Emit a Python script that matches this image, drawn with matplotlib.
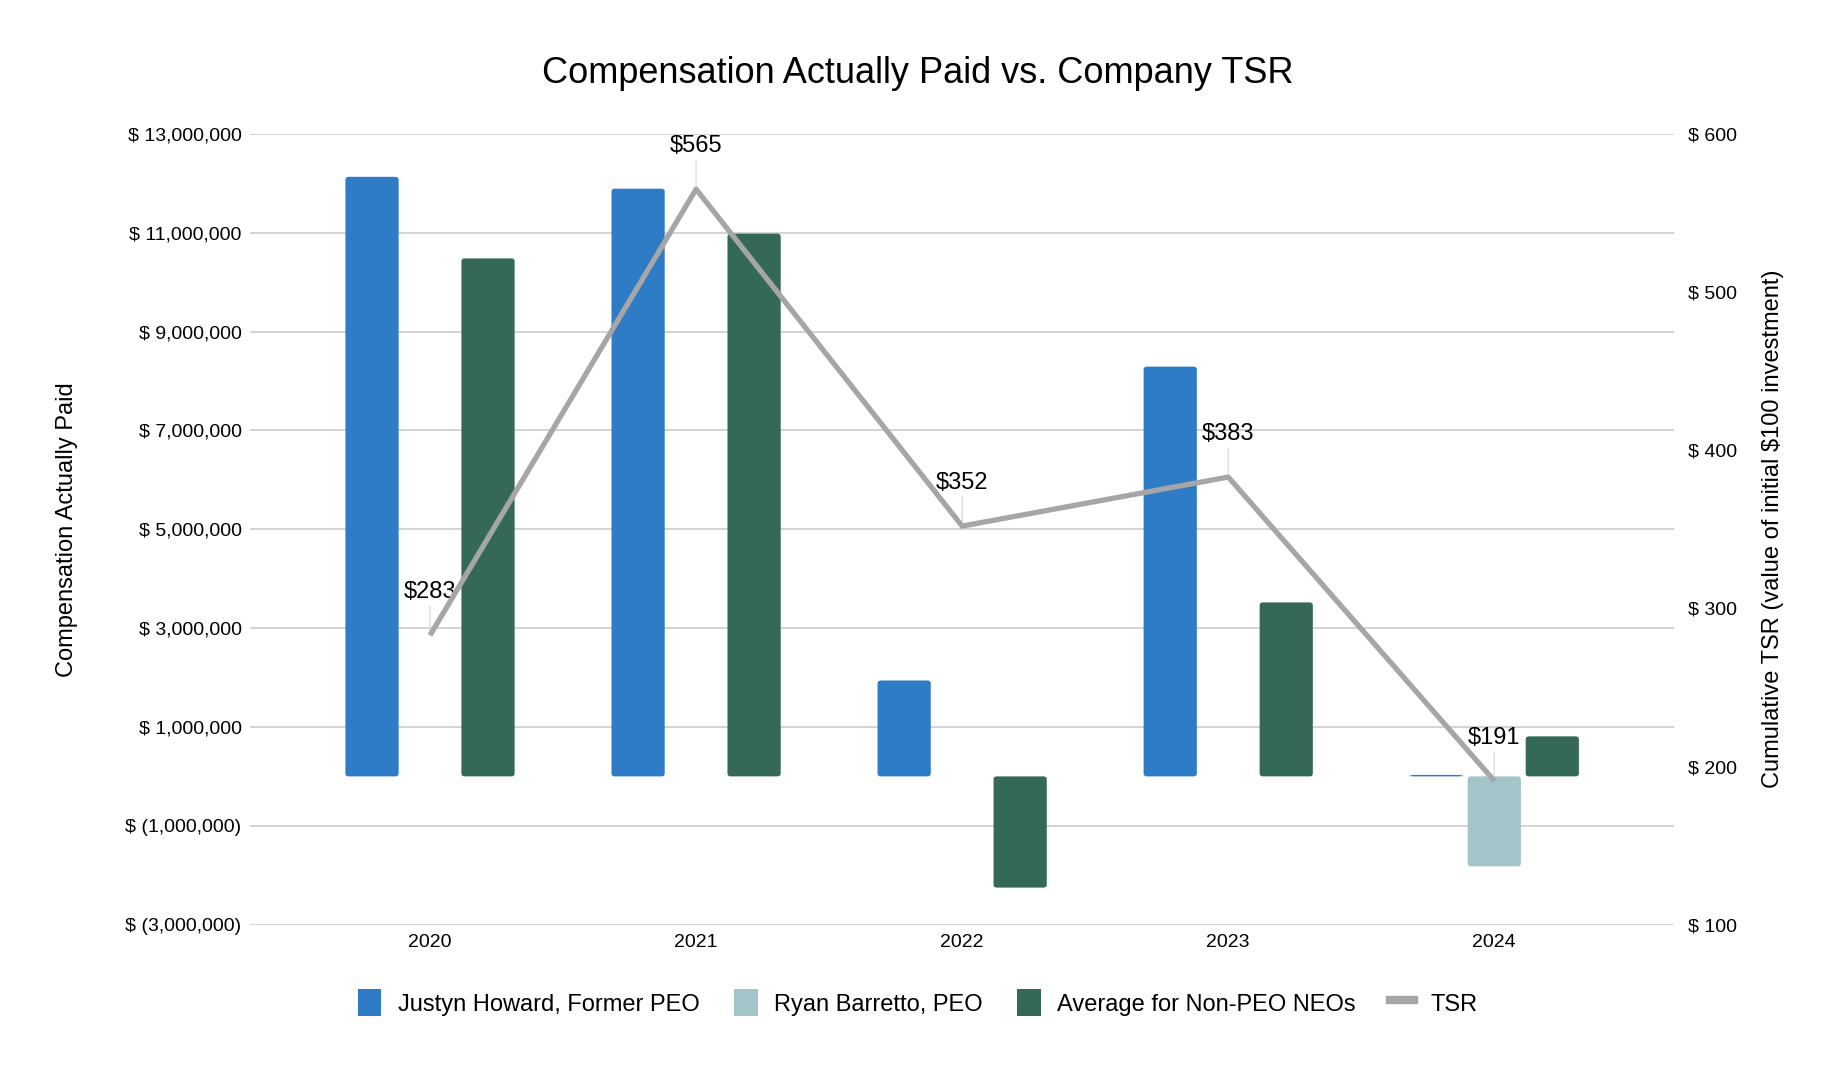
import matplotlib.pyplot as plt
import numpy as np
from matplotlib.patches import Patch, FancyBboxPatch
from matplotlib.lines import Line2D
from matplotlib.ticker import FuncFormatter

plt.rcParams['font.family'] = ['Liberation Sans', 'DejaVu Sans']

years = ['2020', '2021', '2022', '2023', '2024']
justyn = [12130000, 11890000, 1940000, 8290000, 30000]
ryan = [0, 0, 0, 0, -1820000]
non_peo = [10480000, 10980000, -2250000, 3520000, 810000]
tsr = [283, 565, 352, 383, 191]

c_justyn = '#2E7BC6'
c_ryan = '#A3C4C9'
c_avg = '#346955'
c_tsr = '#A6A6A6'

fig = plt.figure(figsize=(18.24, 10.68), dpi=100)
ax = fig.add_axes([0.137, 0.1342, 0.781, 0.7405])
ax2 = ax.twinx()

x = np.arange(len(years))
w = 0.2
off = 0.218

bars = []
bars += list(ax.bar(x - off, justyn, w, color=c_justyn, zorder=3))
bars += list(ax.bar(x, ryan, w, color=c_ryan, zorder=3))
bars += list(ax.bar(x + off, non_peo, w, color=c_avg, zorder=3))

ax.set_xlim(-0.677, 4.677)
ax.set_ylim(-3000000, 13000000)

# swap plain bars for slightly rounded ones
rx = 0.012
ry = 60000
for b in bars:
    if b.get_height() == 0:
        b.remove()
        continue
    bx, by = b.get_x(), b.get_y()
    bw, bh = b.get_width(), b.get_height()
    if bh < 0:
        by, bh = by + bh, -bh
    fb = FancyBboxPatch((bx, by), bw, bh,
                        boxstyle='round,pad=0,rounding_size=%f' % rx,
                        mutation_aspect=ry / rx,
                        facecolor=b.get_facecolor(), edgecolor='none', zorder=3)
    b.remove()
    ax.add_patch(fb)

ax.set_yticks(np.arange(-3000000, 13000001, 2000000))


def money(v, pos):
    if v < 0:
        return '$ ({:,.0f})'.format(-v)
    return '$ {:,.0f}'.format(v)


ax.yaxis.set_major_formatter(FuncFormatter(money))
ax.grid(axis='y', color='#CCCCCC', lw=1.2, zorder=0)
ax.set_axisbelow(True)
ax.set_xticks(x)
ax.set_xticklabels(years)
ax.tick_params(axis='y', length=0, labelsize=14, pad=6)
ax.tick_params(axis='x', length=0, labelsize=14, pad=7)
for s in ax.spines.values():
    s.set_visible(False)
ax.set_ylabel('Compensation Actually Paid', fontsize=17, labelpad=34)

ax2.plot(x, tsr, color=c_tsr, lw=3.8, zorder=4, solid_capstyle='butt')
ax2.set_ylim(100, 600)
ax2.set_yticks(np.arange(100, 601, 100))
ax2.yaxis.set_major_formatter(FuncFormatter(lambda v, p: '$ {:,.0f}'.format(v)))
ax2.tick_params(axis='y', length=0, labelsize=14, pad=10)
for s in ax2.spines.values():
    s.set_visible(False)
ax2.set_ylabel('Cumulative TSR (value of initial $100 investment)', fontsize=17,
               rotation=90, labelpad=18)

for xi, t in zip(x, tsr):
    ax2.annotate('${}'.format(t), xy=(xi, t), xytext=(0, 23), textcoords='offset points',
                 ha='center', va='bottom', fontsize=17,
                 arrowprops=dict(arrowstyle='-', color='#DDDDDD', lw=1,
                                 shrinkA=0, shrinkB=2))

fig.suptitle('Compensation Actually Paid vs. Company TSR', fontsize=26, x=0.503, y=0.948)

handles = [Patch(facecolor=c_justyn), Patch(facecolor=c_ryan), Patch(facecolor=c_avg),
           Line2D([0], [0], color=c_tsr, lw=6)]
labels = ['Justyn Howard, Former PEO', 'Ryan Barretto, PEO', 'Average for Non-PEO NEOs', 'TSR']
fig.legend(handles, labels, loc='center', bbox_to_anchor=(0.503, 0.061), ncol=4,
           frameon=False, fontsize=17, handlelength=1.0, handleheight=1.4,
           handletextpad=0.7, columnspacing=1.45)

fig.savefig('out.png', dpi=100)
